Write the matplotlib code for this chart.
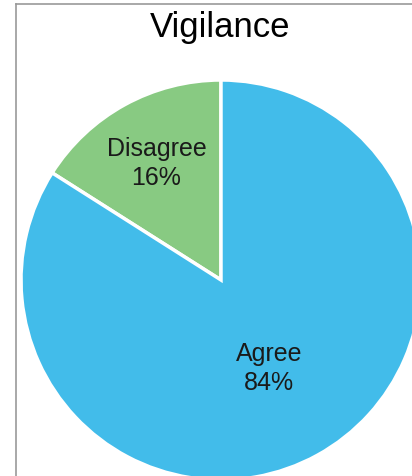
import numpy as np
import matplotlib
matplotlib.use("agg")
import matplotlib.pyplot as plt

labels = ['Disagree', 'Agree']
shares = [16, 84]
colors = ['#88CA82', '#42BCEA']
label_radius = [0.67, 0.5]

plt.rcParams['font.family'] = ['Liberation Sans', 'DejaVu Sans']

W, H = 412, 477
fig = plt.figure(figsize=(W / 100, H / 100), dpi=100)

# axes laid out in pixels; the frame runs past the right and bottom edges
left, top, aw, ah = 16, 5, 430, 510
ax = fig.add_axes([left / W, (H - top - ah) / H, aw / W, ah / H])
ax.set_xlim(0, aw)
ax.set_ylim(0, ah)
ax.set_xticks([])
ax.set_yticks([])
for s in ax.spines.values():
    s.set_color('#999999')
    s.set_linewidth(1.2)

cx, cy, r = 221 - left, top + ah - 281, 200
wedges, _ = ax.pie(shares, colors=colors, startangle=90, counterclock=True,
                   center=(cx, cy), radius=r, frame=True,
                   wedgeprops=dict(edgecolor='white', linewidth=2.5))
for w in wedges:
    w.set_clip_on(False)
ax.set_xlim(0, aw)
ax.set_ylim(0, ah)
ax.set_aspect('auto')

for w, lab, val, d in zip(wedges, labels, shares, label_radius):
    ang = np.deg2rad((w.theta1 + w.theta2) / 2)
    ax.text(cx + d * r * np.cos(ang), cy + d * r * np.sin(ang),
            '{}\n{}%'.format(lab, val), ha='center', va='center',
            fontsize=18, linespacing=1.3, color='#1a1a1a')

fig.text(220 / W, 1 - 27 / H, 'Vigilance', ha='center', va='center',
         fontsize=25, color='black')

fig.savefig('out.png', dpi=100)
